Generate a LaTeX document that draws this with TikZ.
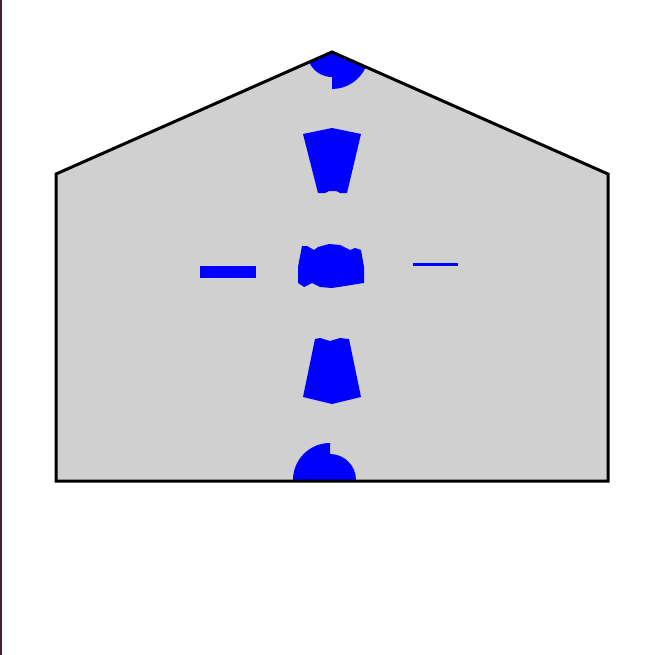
\documentclass[tikz,border=0pt]{standalone}
\definecolor{housegray}{RGB}{208,208,208}
\definecolor{edgeplum}{RGB}{74,30,58}
\tikzset{
  wedge/.style={fill=blue,draw=none},
  house/.style={line width=3pt,draw=black,line join=miter}
}
\begin{document}
\begin{tikzpicture}[x=1pt,y=-1pt]
			\useasboundingbox (0,0) rectangle (655,655);
			\fill[white] (0,0) rectangle (655,655);
			\fill[edgeplum] (0,0) rectangle (1.5,655);
			
			\coordinate (bl) at (56,481);
			\coordinate (br) at (608,481);
			\coordinate (tr) at (608,174);
			\coordinate (top) at (332,52);
			\coordinate (tl) at (56,174);
			
			\coordinate (mid) at (332,267);
			\coordinate (low) at (330,480);
			
			\fill[housegray] (bl)--(br)--(tr)--(top)--(tl)--cycle;
			
			% sectors at the apex and at the base
			\fill[wedge] (top) -- ++(90:25) arc[start angle=90,end angle=156.2,radius=25] -- cycle;
			\fill[wedge] (top) -- ++(23.8:37) arc[start angle=23.8,end angle=90,radius=37] -- cycle;
			\fill[wedge] (low) -- ++(180:37) arc[start angle=180,end angle=270,radius=37] -- cycle;
			\fill[wedge] (low) -- ++(270:26) arc[start angle=270,end angle=360,radius=26] -- cycle;
			
			% upper and lower wedges
			\fill[wedge] (303,134)--(332,128)--(361,134)--(347,193)--(340,193)--(336,191)
				--(329,191)--(325,193)--(318,193)--cycle;
			\fill[wedge] (315,339)--(320,338)--(330,341)--(340,338)--(349,339)--(361,397)
				--(332,404)--(303,397)--cycle;
			
			% centre
			\fill[wedge] (302,246)--(307,246)--(314,250)--(318,247)--(329,244)--(340,245)
				--(350,250)--(355,248)--(361,250)--(364,267)--(364,283)--(357,284)
				--(345,286)--(332,288)--(320,287)--(312,283)--(304,287)--(298,283)
				--(298,267)--cycle;
			
			% side bars
			\fill[wedge] (200,266) rectangle (256,278);
			\fill[wedge] (413,263) rectangle (458,266);
			
			\draw[house] (bl)--(br)--(tr)--(top)--(tl)--cycle;
		\end{tikzpicture}
\end{document}
